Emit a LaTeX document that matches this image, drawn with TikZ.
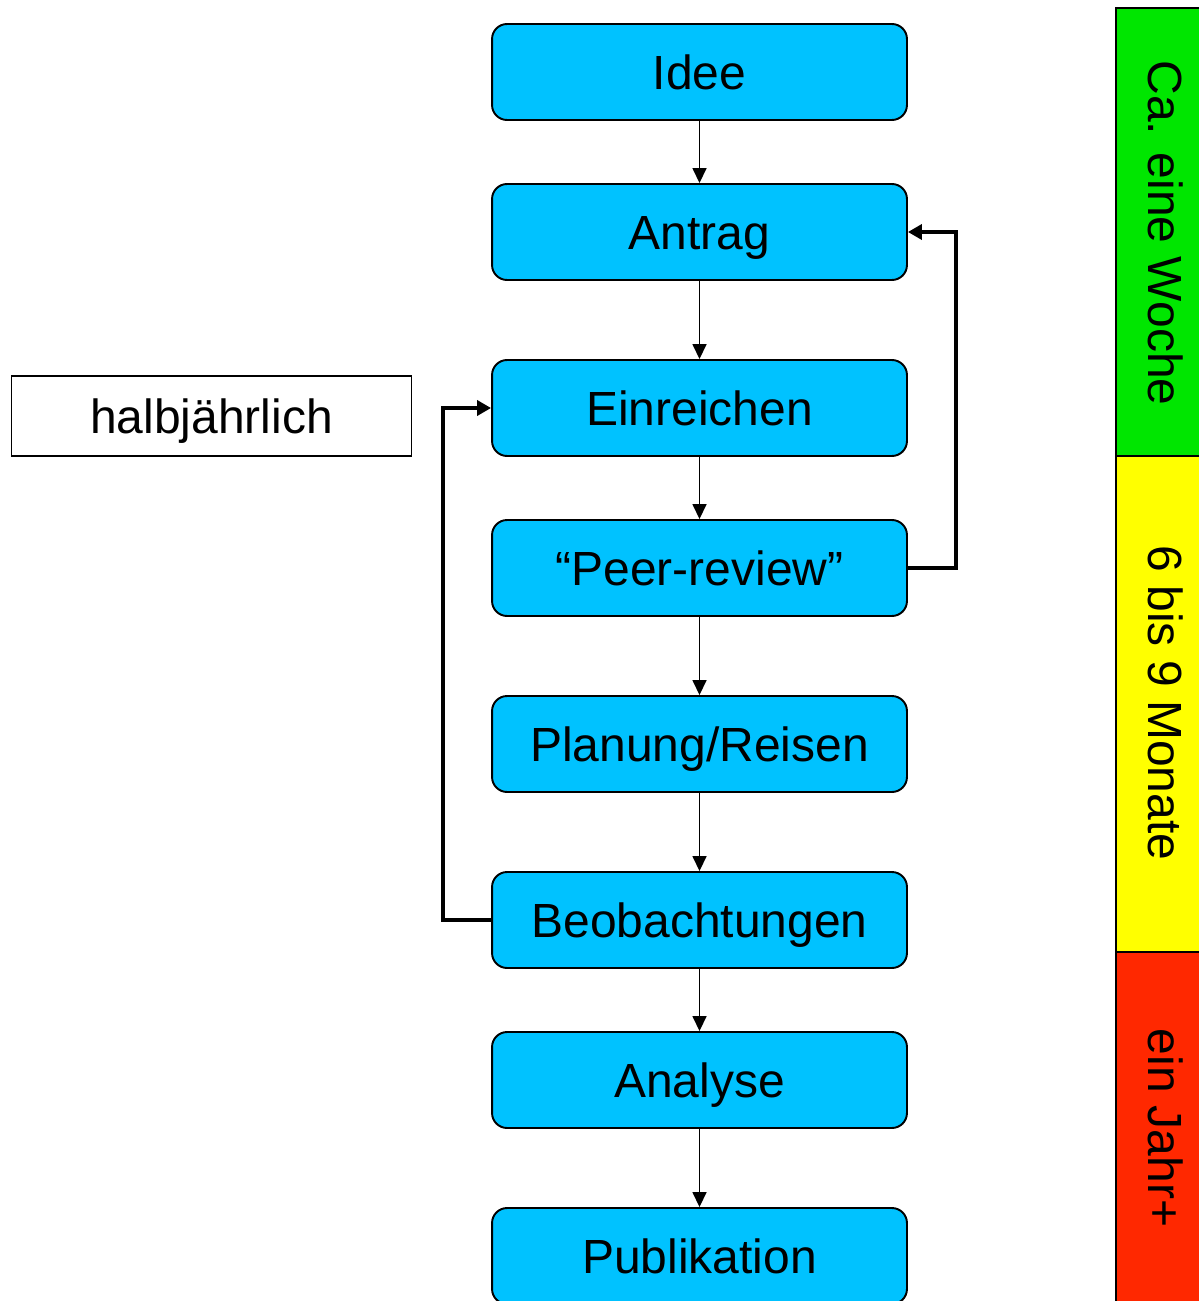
\documentclass[tikz,border=0pt]{standalone}
\usepackage{fontspec}
\setmainfont{Liberation Sans}
\usetikzlibrary{arrows.meta}

\definecolor{stepblue}{RGB}{0,194,255}
\definecolor{weekgreen}{RGB}{0,230,0}
\definecolor{monthyellow}{RGB}{255,255,0}
\definecolor{yearred}{RGB}{255,40,0}

\begin{document}
\begin{tikzpicture}[
    x=0.02cm, y=-0.02cm,
    stepbox/.style={draw, fill=stepblue, rounded corners=0.3cm, line width=1.1pt,
      minimum width=8.3cm, minimum height=1.92cm, text height=19.5pt, text depth=0pt,
      font=\fontsize{27.3}{33}\selectfont},
    notebox/.style={draw, line width=0.8pt, minimum width=8.0cm, minimum height=1.6cm,
      text height=19.5pt, text depth=0pt, font=\fontsize{27.3}{33}\selectfont},
    phase/.style={draw, line width=1.6pt},
    phasetext/.style={rotate=-90, font=\fontsize{27.3}{33}\selectfont},
    flow/.style={-{Triangle[width=0.28cm, length=0.3cm]}, line width=0.9pt},
    loop/.style={-{Triangle[width=0.3cm, length=0.28cm]}, line width=2.3pt}
  ]
  \useasboundingbox (0,0) rectangle (1199,1301);

  % Steps of the process
  \node[stepbox] (idee) at (699.5,72) {Idee};
  \node[stepbox] (antrag) at (699.5,232) {Antrag};
  \node[stepbox] (einreichen) at (699.5,408) {Einreichen};
  \node[stepbox] (review) at (699.5,568) {“Peer-review”};
  \node[stepbox] (planung) at (699.5,744) {Planung/Reisen};
  \node[stepbox] (beob) at (699.5,920) {Beobachtungen};
  \node[stepbox] (analyse) at (699.5,1080) {Analyse};
  \node[stepbox] (publikation) at (699.5,1256) {Publikation};

  \node[notebox] (halbj) at (211.5,416) {halbjährlich};

  % Straight arrows
  \draw[flow] (idee) -- (antrag);
  \draw[flow] (antrag) -- (einreichen);
  \draw[flow] (einreichen) -- (review);
  \draw[flow] (review) -- (planung);
  \draw[flow] (planung) -- (beob);
  \draw[flow] (beob) -- (analyse);
  \draw[flow] (analyse) -- (publikation);

  % Feedback loops
  \draw[loop] (review.east) -| (956,232) -- (antrag.east);
  \draw[loop] (beob.west) -| (443,408) -- (einreichen.west);

  % Time bar
  \draw[phase, fill=weekgreen] (1116,8) rectangle (1216,456);
  \draw[phase, fill=monthyellow] (1116,456) rectangle (1216,952);
  \draw[phase, fill=yearred] (1116,952) rectangle (1216,1320);
  \node[phasetext] (woche) at (1166,233) {Ca. eine Woche};
  \node[phasetext] (monate) at (1166,703) {6 bis 9 Monate};
  \node[phasetext] (jahr) at (1166,1128) {ein Jahr+};

\end{tikzpicture}
\end{document}
